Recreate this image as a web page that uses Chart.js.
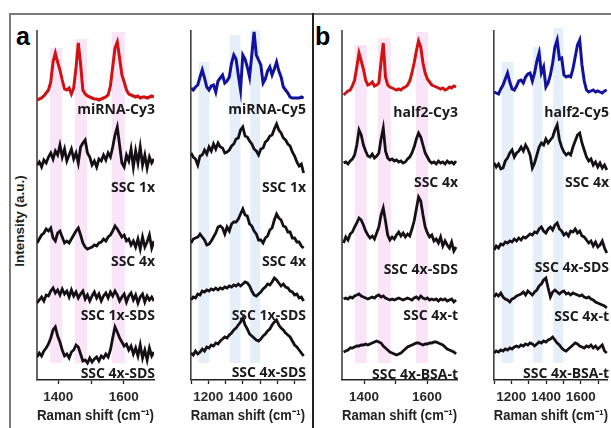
<!DOCTYPE html>
<html>
<head>
<meta charset="utf-8">
<script src="https://cdn.jsdelivr.net/npm/chart.js@4.4.1/dist/chart.umd.min.js"></script>
<style>
  body { margin: 0; background: #fff; }
  #wrap { position: relative; width: 611px; height: 428px; overflow: hidden; background: #fff; }
  canvas { position: absolute; top: 0; }
  .line { position: absolute; }
  .letter { position: absolute; font: bold 25px "Liberation Sans", Arial, sans-serif; color: #000; }
  #ylab { position: absolute; left: 19px; top: 221px; transform: translate(-50%, -50%) rotate(-90deg);
          font: bold 13.5px "Liberation Sans", Arial, sans-serif; color: #222; white-space: nowrap; }
</style>
</head>
<body>
<div id="wrap">
  <div class="line" style="left:10px;top:13px;width:601px;height:2px;background:#7a7a7a"></div>
  <div class="line" style="left:9px;top:13px;width:2px;height:415px;background:#7a7a7a"></div>
  <div class="line" style="left:312px;top:13px;width:2px;height:415px;background:#222"></div>
  <div class="letter" style="left:16px;top:22px">a</div>
  <div class="letter" style="left:315px;top:22px">b</div>
  <div id="ylab">Intensity (a.u.)</div>
  <canvas id="c1"></canvas>
  <canvas id="c2"></canvas>
  <canvas id="c3"></canvas>
  <canvas id="c4"></canvas>
</div>
<script>
// Raman shift grids (cm-1)
const wnCy3 = [1335,1342,1349,1356,1363,1370,1377,1384,1391,1398,1405,1412,1419,1426,1433,1440,1447,1454,1461,1468,1475,1482,1489,1496,1503,1510,1517,1524,1531,1538,1545,1552,1559,1566,1573,1580,1587,1594,1601,1608,1615,1622,1629,1636,1643,1650,1657,1664,1671,1678,1685,1692];
const wnCy5 = [1100,1113,1126,1139,1152,1165,1178,1191,1204,1217,1230,1243,1256,1269,1282,1295,1308,1321,1334,1347,1360,1373,1386,1399,1412,1425,1438,1451,1464,1477,1490,1503,1516,1529,1542,1555,1568,1581,1594,1607,1620,1633,1646,1659,1672,1685,1698,1711,1724,1737,1750];

// panel a, Cy3 (intensity above own baseline)
const aCy3Names = ['miRNA-Cy3', 'SSC 1x', 'SSC 4x', 'SSC 1x-SDS', 'SSC 4x-SDS'];
const aCy3Ref   = [0,1,2,4,7,10,18,38,47,38,30,20,11,10,12,6,12,32,57,36,10,6,4,3,2,1,1,0,1,2,3,5,14,33,52,58,42,25,18,10,6,5,4,3,4,2,3,3,2,3,4,3];
const aCy3Ssc1  = [0,3,-2,5,2,8,12,6,14,10,20,8,16,4,10,16,6,12,2,18,22,25,12,8,0,4,-2,6,4,10,5,12,8,18,30,38,20,2,-2,10,4,16,-2,14,2,18,0,10,-3,8,2,6];
const aCy3Ssc4  = [2,6,10,12,16,14,17,7,4,12,14,8,2,4,2,6,10,14,17,10,2,-2,-4,-3,-2,0,-1,2,3,6,4,8,10,14,19,16,12,8,10,4,6,0,4,-2,6,-4,8,-2,3,10,-3,4];
const aCy3Sds1  = [-3,0,3,-1,5,4,9,12,7,10,5,11,6,9,3,10,4,8,2,6,9,1,5,-1,4,8,2,6,-1,4,7,2,8,4,9,5,-1,3,6,-2,4,7,0,5,-3,3,6,-2,4,0,3,-1];
const aCy3Sds4  = [3,7,4,9,12,16,22,30,33,24,18,10,4,6,2,8,10,15,13,6,-1,0,-3,2,-2,1,3,-1,4,2,6,3,10,22,33,28,22,18,14,16,10,14,6,12,4,15,2,10,0,12,4,8];

// panel a, Cy5
const aCy5Names = ['miRNA-Cy5', 'SSC 1x', 'SSC 4x', 'SSC 1x-SDS', 'SSC 4x-SDS'];
const aCy5Ref   = [7,5,8,10,18,25,17,8,5,9,10,3,14,17,20,12,14,18,32,40,36,20,5,40,36,28,18,40,63,40,35,30,12,16,24,28,20,26,33,24,18,8,5,2,-2,-3,-3,-3,-3,-2,-3];
const aCy5Ssc1  = [12,8,6,0,9,10,15,11,18,14,21,16,22,18,17,12,13,15,19,21,26,27,35,38,29,28,24,21,16,14,10,16,17,23,25,29,30,36,41,35,32,27,25,21,19,13,9,3,-1,1,-8];
const aCy5Ssc4  = [2,6,7,8,11,8,5,0,1,4,8,12,18,19,17,11,18,14,21,23,23,26,31,36,30,29,21,19,14,11,5,5,2,7,9,15,17,25,31,27,25,19,18,13,13,7,7,3,3,-1,-3];
const aCy5Sds1  = [0,3,2,6,5,9,8,10,9,11,10,12,10,12,11,13,12,14,13,15,14,16,14,16,18,17,14,9,5,4,6,8,11,13,16,15,18,22,20,17,14,16,13,12,9,8,5,6,2,3,-1];
const aCy5Sds4  = [2,0,4,1,3,6,4,8,7,10,9,12,11,14,16,18,17,20,22,25,27,30,33,37,30,26,21,19,17,15,14,16,19,21,24,26,30,33,35,30,27,25,22,20,18,14,10,8,5,2,-1];

// panel b, Cy3
const bCy3Names = ['half2-Cy3', 'SSC 4x', 'SSC 4x-SDS', 'SSC 4x-t', 'SSC 4x-BSA-t'];
const bCy3Ref   = [2,4,6,7,11,17,30,44,36,28,17,12,13,15,11,12,14,35,54,20,12,10,9,8,7,8,7,9,10,12,16,24,34,46,56,50,34,24,18,15,12,11,10,9,8,9,7,8,10,9,11,10];
const bCy3Ssc4  = [2,3,1,4,6,10,20,35,30,20,14,9,8,11,7,9,12,26,37,14,7,5,6,4,5,3,4,2,3,6,8,12,18,26,32,28,20,12,8,4,2,3,1,4,2,3,1,4,2,3,1,4];
const bCy3Sds4  = [2,8,5,11,13,18,22,27,25,20,14,10,7,9,6,12,18,30,37,24,10,5,8,6,10,13,9,12,8,11,9,16,24,36,48,44,30,18,12,8,10,4,6,2,8,-1,4,0,-3,3,-6,-2];
const bCy3T     = [1,2,1,3,2,4,5,6,4,3,2,1,2,3,2,4,5,3,4,2,1,0,1,0,1,2,1,0,1,2,1,0,2,3,1,4,2,1,2,0,1,0,1,-1,1,0,1,-1,0,1,-2,0];
const bCy3Bsa   = [3,4,5,7,7,8,9,9,10,10,11,10,11,12,13,14,13,12,9,7,5,3,2,1,0,1,2,4,6,8,9,10,11,12,12,11,10,11,11,12,12,13,13,12,11,10,8,6,5,4,3,1];

// panel b, Cy5
const bCy5Names = ['half2-Cy5', 'SSC 4x', 'SSC 4x-SDS', 'SSC 4x-t', 'SSC 4x-BSA-t'];
const bCy5Ref   = [3,2,1,6,10,16,22,13,6,5,9,14,15,12,18,21,22,14,22,34,42,22,28,8,12,20,32,48,55,36,37,20,18,19,18,26,38,50,55,30,14,5,3,4,5,3,4,3,2,4,5];
const bCy5Ssc4  = [2,-2,1,-4,-3,4,7,12,15,8,12,14,18,14,20,16,10,-3,2,10,18,22,20,26,22,25,28,35,40,25,18,13,10,12,10,18,24,30,32,22,15,8,4,6,0,3,-2,2,-3,0,-5];
const bCy5Sds4  = [-5,-1,-3,1,0,3,2,4,3,6,4,7,5,8,7,9,11,10,13,12,16,18,14,12,16,18,15,20,22,16,14,10,12,9,14,13,16,12,14,9,8,5,2,4,-1,3,-2,0,4,-3,-8];
const bCy5T     = [3,6,4,7,3,1,0,-2,1,2,4,5,6,8,5,9,7,5,8,10,14,16,20,22,12,3,8,10,8,6,8,9,6,7,5,7,6,5,4,5,3,2,3,1,0,-2,-3,-4,-5,-6,-8];
const bCy5Bsa   = [2,4,3,5,4,6,5,7,6,8,9,8,10,9,11,10,12,11,9,11,13,12,14,13,15,16,18,15,12,10,7,5,4,6,8,10,12,11,9,8,7,9,8,10,7,9,6,8,10,4,2];

// highlighted bands [from, to] in cm-1
const cy3Bands = [[1375,1412],[1451,1488],[1563,1603]];
const cy5Bands = [[1144,1206],[1324,1386],[1442,1499]];

const RED = '#d01212', BLUE = '#12129c', BLK = '#141014';
const PINK = 'rgba(246,205,242,0.55)', LBLUE = 'rgba(205,225,246,0.55)';

const decor = {
  id: 'decor',
  beforeDatasetsDraw(chart, args, o) {
    const { ctx, chartArea: a, scales: { x, y } } = chart;
    ctx.save();
    ctx.fillStyle = o.bandColor;
    o.bands.forEach((b, i) => {
      const x0 = x.getPixelForValue(b[0]), x1 = x.getPixelForValue(b[1]);
      const y0 = y.getPixelForValue(o.bandTop[i]), y1 = y.getPixelForValue(o.bandFloor);
      ctx.fillRect(x0, y0, x1 - x0, y1 - y0);
    });
    ctx.strokeStyle = '#333';
    ctx.lineWidth = 1.5;
    ctx.beginPath();
    ctx.moveTo(a.left, a.top);
    ctx.lineTo(a.left, a.bottom);
    ctx.stroke();
    ctx.restore();
  },
  afterDatasetsDraw(chart, args, o) {
    const { ctx, chartArea: a, scales: { y } } = chart;
    ctx.save();
    ctx.font = 'bold 14px "Open Sans", sans-serif';
    ctx.fillStyle = '#1a1a1a';
    ctx.textAlign = 'right';
    ctx.textBaseline = 'middle';
    o.names.forEach((n, i) => ctx.fillText(n, a.right + 1, y.getPixelForValue(o.labelY[i])));
    ctx.restore();
  }
};

function makePanel(id, left, right, xMin, xMax, wn, series, colors, offsets, names, labelY, bands, bandTop, bandColor) {
  const cv = document.getElementById(id);
  cv.width = right - left + 6;
  cv.height = 428;
  cv.style.left = (left - 2) + 'px';
  const datasets = series.map((s, k) => ({
    data: wn.map((w, i) => ({ x: w, y: s[i] + offsets[k] })),
    borderColor: colors[k],
    borderWidth: k === 0 ? 3 : 2.8,
    pointRadius: 0,
    tension: 0
  }));
  new Chart(cv, {
    type: 'line',
    data: { datasets },
    plugins: [decor],
    options: {
      responsive: false,
      animation: false,
      layout: { padding: { left: 2, right: 4, top: 30, bottom: 0 } },
      plugins: {
        legend: { display: false },
        tooltip: { enabled: false },
        decor: { names, labelY, bands, bandTop, bandFloor: 17, bandColor }
      },
      scales: {
        x: {
          type: 'linear', min: xMin, max: xMax,
          afterFit: s => { s.height = 48; },
          border: { display: true, color: '#222', width: 1.5 },
          grid: { drawOnChartArea: false, tickLength: 4, color: '#222', tickWidth: 1.3 },
          ticks: {
            stepSize: 100, includeBounds: false, autoSkip: false, maxRotation: 0,
            padding: 5, color: '#2a2a2a',
            font: { family: '"Liberation Sans", Arial, sans-serif', size: 13.5, weight: 'bold' },
            callback: v => (v % 200 === 0 ? v : '')
          },
          title: {
            display: true, text: 'Raman shift (cm\u207B\u00B9)', color: '#222',
            font: { family: '"Liberation Sans", Arial, sans-serif', size: 14.5, weight: 'bold' },
            padding: { top: 2, bottom: 3 }
          }
        },
        y: { display: false, min: 0, max: 350 }
      }
    }
  });
}

const fiveCy3 = [RED, BLK, BLK, BLK, BLK];
const fiveCy5 = [BLUE, BLK, BLK, BLK, BLK];

makePanel('c1', 37, 154, 1335, 1692, wnCy3,
  [aCy3Ref, aCy3Ssc1, aCy3Ssc4, aCy3Sds1, aCy3Sds4], fiveCy3,
  [280, 215, 135, 80, 20], aCy3Names, [270, 192, 118, 64, 6],
  cy3Bands, [332, 341, 348], PINK);

makePanel('c2', 188, 305, 1099, 1758, wnCy5,
  [aCy5Ref, aCy5Ssc1, aCy5Ssc4, aCy5Sds1, aCy5Sds4], fiveCy5,
  [285, 215, 135, 80, 25], aCy5Names, [270, 192, 118, 64, 7],
  cy5Bands, [318, 345, 350], LBLUE);

makePanel('c3', 342, 457, 1330, 1695, wnCy3,
  [bCy3Ref, bCy3Ssc4, bCy3Sds4, bCy3T, bCy3Bsa], fiveCy3,
  [283, 215, 135, 80, 25], bCy3Names, [267, 197, 110, 64, 5],
  [[1371,1409],[1444,1485],[1565,1603]], [335, 342, 348], PINK);

makePanel('c4', 491, 608, 1099, 1757, wnCy5,
  [bCy5Ref, bCy5Ssc4, bCy5Sds4, bCy5T, bCy5Bsa], fiveCy5,
  [285, 215, 135, 80, 25], bCy5Names, [267, 197, 112, 63, 6],
  [[1144,1212],[1324,1380],[1442,1499]], [318, 333, 352], LBLUE);
</script>
</body>
</html>
